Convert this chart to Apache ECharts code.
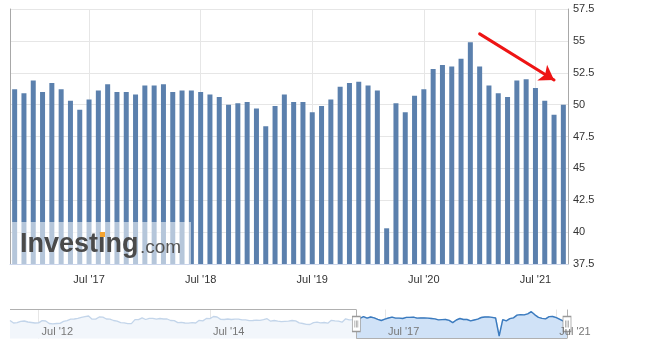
<!DOCTYPE html>
<html>
<head>
<meta charset="utf-8">
<script src="https://cdn.jsdelivr.net/npm/echarts@6/dist/echarts.min.js"></script>
<style>
html,body{margin:0;padding:0;background:#ffffff;}
#chart{width:647px;height:347px;}
</style>
</head>
<body>
<div id="chart"></div>
<script>
// ---- Main chart: monthly release months and PMI values ----
const barMonths = [
  '2016-11','2016-12',
  '2017-01','2017-02','2017-03','2017-04','2017-05','2017-06','2017-07','2017-08','2017-09','2017-10','2017-11','2017-12',
  '2018-01','2018-02','2018-03','2018-04','2018-05','2018-06','2018-07','2018-08','2018-09','2018-10','2018-11','2018-12',
  '2019-01','2019-02','2019-03','2019-04','2019-05','2019-06','2019-07','2019-08','2019-09','2019-10','2019-11','2019-12',
  '2020-01','2020-02','2020-03','2020-04','2020-05','2020-06','2020-07','2020-08','2020-09','2020-10','2020-11','2020-12',
  '2021-01','2021-02','2021-03','2021-04','2021-05','2021-06','2021-07','2021-08','2021-09','2021-10'
];
const pmiValues = [
  51.2, 50.9,
  51.9, 51.0, 51.7, 51.2, 50.3, 49.6, 50.4, 51.1, 51.6, 51.0, 51.0, 50.8,
  51.5, 51.5, 51.6, 51.0, 51.1, 51.1, 51.0, 50.8, 50.6, 50.0, 50.1, 50.2,
  49.7, 48.3, 49.9, 50.8, 50.2, 50.2, 49.4, 49.9, 50.4, 51.4, 51.7, 51.8,
  51.5, 51.1, 40.3, 50.1, 49.4, 50.7, 51.2, 52.8, 53.1, 53.0, 53.6, 54.9,
  53.0, 51.5, 50.9, 50.6, 51.9, 52.0, 51.3, 50.3, 49.2, 50.0
];
const yMin = 37.5, yMax = 57.5, yStep = 2.5;
const xTickMonth = '07';

// ---- Navigator: earlier history (two releases a month, then monthly) ----
const navPairMonths = [
  '2012-03','2012-04','2012-05','2012-06','2012-07','2012-08','2012-09','2012-10','2012-11','2012-12',
  '2013-01','2013-02','2013-03','2013-04','2013-05','2013-06','2013-07','2013-08','2013-09','2013-10','2013-11','2013-12',
  '2014-01','2014-02','2014-03','2014-04','2014-05','2014-06','2014-07','2014-08','2014-09','2014-10','2014-11','2014-12',
  '2015-01','2015-02','2015-03','2015-04','2015-05','2015-06','2015-07'
];
const navPairValues = [
  49.6,48.1, 48.3,49.1, 49.3,48.7, 48.4,48.1, 48.2,49.5, 49.3,47.8, 47.6,47.8, 47.9,49.1, 49.5,50.4, 50.5,50.9,
  51.5,51.9, 52.3,50.4, 50.4,51.7, 51.6,50.5, 50.4,49.6, 49.2,48.3, 48.2,47.7, 47.7,50.1, 50.1,51.2, 50.2,50.9, 50.9,50.4, 50.8,50.5,
  50.5,49.6, 49.5,48.3, 48.5,48.1, 48.0,48.3, 48.1,49.7, 49.4,50.8, 50.7,52.0, 51.7,50.3, 50.2,50.5, 50.2,50.4, 50.4,50.0, 50.0,49.5,
  49.6,49.8, 49.7,50.1, 50.7,49.2, 49.6,49.2, 48.9,49.1, 49.2,49.6, 49.4,48.2
];
const navSingleMonths = [
  '2015-08','2015-09','2015-10','2015-11','2015-12',
  '2016-01','2016-02','2016-03','2016-04','2016-05','2016-06','2016-07','2016-08','2016-09','2016-10'
];
const navSingleValues = [47.8, 47.3, 47.2, 48.3, 48.6, 48.2, 48.4, 48.0, 49.7, 49.4, 49.2, 48.6, 50.6, 50.0, 50.1];
const navTickMonths = ['2012-07','2014-07','2017-07','2021-07'];
const navMin = 38.8, navMax = 56.2;

// ---- Annotation arrow (data space) ----
const arrowStart = ['2021-01', 55.55];
const arrowEnd = ['2021-09', 51.93];

// ---- derived ----
const MON = ['Jan','Feb','Mar','Apr','May','Jun','Jul','Aug','Sep','Oct','Nov','Dec'];
const fmtMonth = v => MON[parseInt(v.slice(5,7),10)-1] + " '" + v.slice(2,4);
const navCats = [];
navPairMonths.forEach(m => { navCats.push(m); navCats.push(m + 'b'); });
navSingleMonths.forEach(m => navCats.push(m));
barMonths.forEach(m => navCats.push(m));
const navVals = navPairValues.concat(navSingleValues, pmiValues);
const selStartIdx = navVals.length - pmiValues.length;
const navSelVals = navVals.map((v, i) => i >= selStartIdx ? v : null);
const selFirst = barMonths[0], selLast = barMonths[barMonths.length - 1];
const navMid = (navMin + navMax) / 2;

const FONT = '"Liberation Sans", Arial, sans-serif';
const mainTick = (i, v) => v.slice(5,7) === xTickMonth;
const navTick = (i, v) => navTickMonths.indexOf(v) >= 0;

const chart = echarts.init(document.getElementById('chart'), null, {renderer: 'canvas'});
chart.setOption({
  animation: false,
  backgroundColor: '#ffffff',
  textStyle: {fontFamily: FONT},
  grid: [
    {left: 10, right: 79, top: 9, bottom: 83, containLabel: false},
    {left: 10, right: 80, top: 309.5, height: 29, containLabel: false}
  ],
  xAxis: [
    {
      type: 'category', gridIndex: 0, position: 'bottom', data: barMonths, boundaryGap: true,
      axisLine: {show: true, lineStyle: {color: '#ccd6eb', width: 1}},
      axisTick: {show: false},
      axisLabel: {interval: mainTick, formatter: fmtMonth, color: '#333', fontSize: 11, margin: 10, fontFamily: FONT},
      splitLine: {show: true, interval: mainTick, alignWithLabel: true, lineStyle: {color: '#e6e6e6', width: 1}}
    },
    {
      type: 'category', gridIndex: 1, position: 'bottom', data: navCats, boundaryGap: false,
      axisLine: {show: false}, axisTick: {show: false}, axisLabel: {show: false},
      splitLine: {show: true, interval: navTick, lineStyle: {color: '#e6e6e6', width: 1}}
    },
    {
      type: 'category', gridIndex: 1, position: 'bottom', data: navCats, boundaryGap: false, z: 20,
      axisLine: {show: false}, axisTick: {show: false}, splitLine: {show: false},
      axisLabel: {interval: navTick, formatter: fmtMonth, color: '#777', fontSize: 11, inside: true, margin: 1,
                  align: 'left', padding: [0, 0, 0, 3], fontFamily: FONT}
    }
  ],
  yAxis: [
    {
      type: 'value', gridIndex: 0, position: 'right', min: yMin, max: yMax, interval: yStep,
      axisLine: {show: true, lineStyle: {color: '#a8a8a8', width: 1}},
      axisTick: {show: false},
      axisLabel: {color: '#333', fontSize: 11, margin: 5, fontFamily: FONT, formatter: v => String(v)},
      splitLine: {show: true, lineStyle: {color: '#e6e6e6', width: 1}}
    },
    {
      type: 'value', gridIndex: 0, position: 'left', min: yMin, max: yMax, interval: yStep,
      axisLine: {show: true, lineStyle: {color: '#a8a8a8', width: 1}},
      axisTick: {show: false}, axisLabel: {show: false}, splitLine: {show: false}
    },
    {
      type: 'value', gridIndex: 1, min: navMin, max: navMax, show: false,
      splitLine: {show: false}
    }
  ],
  series: [
    {
      name: 'PMI', type: 'bar', xAxisIndex: 0, yAxisIndex: 0, data: pmiValues,
      barWidth: 5, itemStyle: {color: '#5b80ad'}, silent: true,
      markLine: {
        silent: true, symbol: ['none', 'arrow'], symbolSize: 14,
        label: {show: false},
        lineStyle: {color: '#ee1414', width: 3, type: 'solid', cap: 'round'},
        itemStyle: {color: '#ee1414'},
        emphasis: {disabled: true},
        data: [[{coord: arrowStart}, {coord: arrowEnd}]]
      }
    },
    {
      name: 'navAll', type: 'line', xAxisIndex: 1, yAxisIndex: 2, data: navVals,
      symbol: 'none', silent: true, clip: false,
      lineStyle: {color: '#c3d5ea', width: 1.3},
      areaStyle: {color: '#f2f6fb', opacity: 1, origin: 'start'}
    },
    {
      name: 'navSel', type: 'line', xAxisIndex: 1, yAxisIndex: 2, data: navSelVals,
      symbol: 'none', silent: true, clip: false, connectNulls: false,
      lineStyle: {color: '#3b7bbf', width: 1.4},
      areaStyle: {color: '#d0e2f7', opacity: 1, origin: 'start'},
      markLine: {
        silent: true, symbol: 'none', label: {show: false},
        lineStyle: {color: '#b0b0b0', width: 1, type: 'solid'},
        emphasis: {disabled: true},
        data: [
          [{coord: [navCats[0], navMax]}, {coord: [selFirst, navMax]}],
          [{coord: [selFirst, navMax]}, {coord: [selFirst, navMin]}],
          [{coord: [selFirst, navMin]}, {coord: [selLast, navMin]}],
          [{coord: [selLast, navMin]}, {coord: [selLast, navMax]}]
        ]
      },
      markPoint: {
        silent: true,
        symbol: 'path://M0,0H8V15H0Z M2.5,4V11 M4,4V11 M5.5,4V11',
        symbolSize: [8, 15], symbolKeepAspect: false,
        itemStyle: {color: '#ffffff', borderColor: '#999999', borderWidth: 1},
        label: {show: false},
        data: [{coord: [selFirst, navMid]}, {coord: [selLast, navMid]}]
      }
    }
  ],
  graphic: [
    {type: 'rect', silent: true, z: 100, shape: {x: 12, y: 222, width: 179, height: 42},
     style: {fill: 'rgba(255,255,255,0.55)'}},
    {type: 'text', silent: true, z: 101, x: 20, y: 245,
     style: {text: 'Investing', font: 'bold 27px ' + FONT, fill: '#4a4a4a', verticalAlign: 'middle', align: 'left'}},
    {type: 'text', silent: true, z: 101, x: 140, y: 247.5,
     style: {text: '.com', font: '19px ' + FONT, fill: '#555555', verticalAlign: 'middle', align: 'left'}},
    {type: 'rect', silent: true, z: 102, shape: {x: 100, y: 232, width: 5, height: 5},
     style: {fill: '#f5a431'}}
  ]
});
</script>
</body>
</html>
